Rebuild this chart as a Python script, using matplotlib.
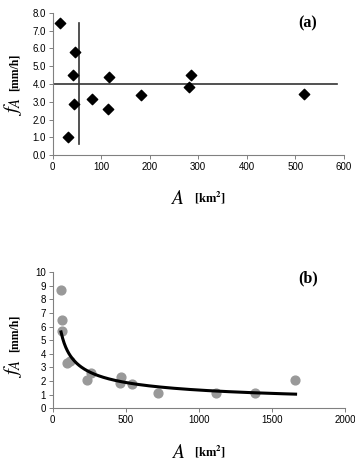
import numpy as np
import matplotlib
matplotlib.use('Agg')
import matplotlib.pyplot as plt

plt.rcParams['font.family'] = ['Liberation Sans', 'DejaVu Sans']
plt.rcParams['mathtext.fontset'] = 'stix'

# (a) data
area_a = [15, 47, 42, 43, 32, 80, 113, 117, 183, 281, 286, 519]
fa_a = [7.4, 5.8, 4.5, 2.9, 1.0, 3.15, 2.6, 4.4, 3.4, 3.85, 4.5, 3.45]
mean_fa = 4.0
hline_xmax = 586
vline_x = 55
vline_y = [0.65, 7.45]

# (b) data
area_b = [57, 61, 61, 96, 118, 237, 262, 460, 467, 540, 720, 1114, 1383, 1656]
fa_b = [8.65, 6.45, 5.65, 3.35, 3.5, 2.05, 2.6, 1.85, 2.3, 1.8, 1.15, 1.1, 1.15, 2.1]
# power-law trend line fA = a * A^b
fit_a = 42.3
fit_b = -0.5
fit_range = [57, 1660]

W, H = 355, 472
fig = plt.figure(figsize=(W / 100, H / 100), dpi=100)


def style_axes(ax):
    for s in ['top', 'right']:
        ax.spines[s].set_visible(False)
    for s in ['left', 'bottom']:
        ax.spines[s].set_color('#808080')
        ax.spines[s].set_linewidth(0.8)
    ax.tick_params(direction='out', length=3, width=0.7, color='#808080',
                   labelsize=7, pad=2)


def labels(yf, yb, xa, xk, ya_lab, yk_lab):
    # pixel coords from top-left
    fig.text(13 / W, 1 - yf / H, r'$f_A$', fontsize=15, rotation=90,
             ha='center', va='center')
    fig.text(15 / W, 1 - yb / H, '[mm/h]', fontsize=8.5, rotation=90,
             ha='center', va='center', family='Liberation Serif', weight='bold')
    fig.text(xa / W, 1 - ya_lab / H, r'$A$', fontsize=14,
             ha='center', va='center')
    fig.text(xk / W, 1 - yk_lab / H, r'[km$^\mathbf{2}$]', fontsize=9,
             ha='center', va='center', family='Liberation Serif', weight='bold')


# panel (a)
ax1 = fig.add_axes([52.7 / W, 1 - 155.3 / H, 291 / W, 142.6 / H])
ax1.scatter(area_a, fa_a, marker='D', s=28, color='black', zorder=3)
ax1.plot([0, hline_xmax], [mean_fa, mean_fa], color='#333333', lw=1.2)
ax1.plot([vline_x, vline_x], vline_y, color='#333333', lw=1.2)
ax1.set_xlim(0, 600)
ax1.set_ylim(0, 8)
ax1.set_xticks(np.arange(0, 601, 100))
ax1.set_yticks(np.arange(0, 8.1, 1))
ax1.set_yticklabels(['%.1f' % v for v in np.arange(0, 8.1, 1)])
style_axes(ax1)
ax1.text(308 / W, 1 - 23 / H, '(a)', transform=fig.transFigure, fontsize=11.5,
         family='Liberation Serif', weight='bold', ha='center', va='center')
labels(106, 72, 177, 210, 199, 198)

# panel (b)
ax2 = fig.add_axes([52.7 / W, 1 - 408.3 / H, 292.6 / W, 136.3 / H])
ax2.scatter(area_b, fa_b, marker='o', s=40, color='#999999', zorder=2)
xs = np.linspace(fit_range[0], fit_range[1], 300)
ax2.plot(xs, fit_a * xs ** fit_b, color='black', lw=2.2, zorder=3)
ax2.set_xlim(0, 2000)
ax2.set_ylim(0, 10)
ax2.set_xticks(np.arange(0, 2001, 500))
ax2.set_yticks(np.arange(0, 11, 1))
style_axes(ax2)
ax2.text(308 / W, 1 - 278 / H, '(b)', transform=fig.transFigure, fontsize=11.5,
         family='Liberation Serif', weight='bold', ha='center', va='center')
labels(368, 333, 178, 210, 453, 452)

fig.savefig('out.png', dpi=100)
